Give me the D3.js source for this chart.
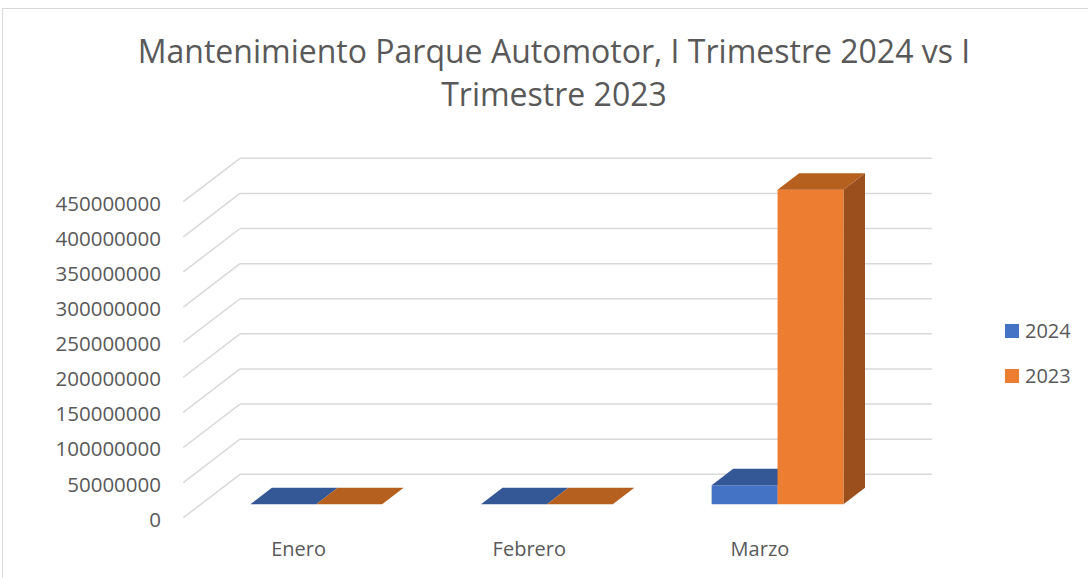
<!DOCTYPE html>
<html>
<head>
<meta charset="utf-8">
<script src="https://cdn.jsdelivr.net/npm/d3@7"></script>
<style>
  body { margin: 0; background: #fff; }
  text { font-family: "Open Sans", "Liberation Sans", sans-serif; fill: #595959; }
</style>
</head>
<body>
<svg id="chart"></svg>
<script>
// datos
const categories = ['Enero', 'Febrero', 'Marzo'];
const seriesNames = ['2024', '2023'];
const values2024 = [0, 0, 27000000];
const values2023 = [0, 0, 448000000];
const yTicks = [0, 50000000, 100000000, 150000000, 200000000, 250000000, 300000000, 350000000, 400000000, 450000000];
const titleLines = ['Mantenimiento Parque Automotor, I Trimestre 2024 vs I', 'Trimestre 2023'];

const width = 1088, height = 578;
const DX = 56.7, DY = 43.4;          // desplazamiento de profundidad (frente -> fondo)
const zFront = 0.31, zBack = 0.69;   // profundidad de las columnas

const colors = {
  '2024': {front: '#4472C4', top: '#345895', side: '#2F5090'},
  '2023': {front: '#ED7D31', top: '#B6601F', side: '#9A4F1D'}
};

const svg = d3.select('#chart')
    .attr('width', width)
    .attr('height', height);

// borde del area del grafico
svg.append('rect')
    .attr('x', 2.5).attr('y', 8.5)
    .attr('width', width + 20).attr('height', height + 20)
    .attr('fill', 'none')
    .attr('stroke', '#d9d9d9')
    .attr('stroke-width', 1);

// escalas sobre el plano frontal
const yScale = d3.scaleLinear()
    .domain([0, 450000000])
    .range([517.7, 201.7]);

const xScale = d3.scaleBand()
    .domain(categories)
    .range([183.3, 875.3]);

const xSub = d3.scaleBand()
    .domain(seriesNames)
    .range([0, xScale.bandwidth()])
    .paddingInner(0)
    .paddingOuter(0.75);

const proj = (x, y, z) => [x + z * DX, y - z * DY];
const poly = pts => 'M' + pts.map(p => p.join(',')).join('L') + 'Z';

// lineas de cuadricula: pared lateral y pared del fondo
const grid = svg.append('g');
const x0 = xScale.range()[0], x1 = xScale.range()[1];
grid.selectAll('line.side')
    .data(yTicks)
    .enter()
    .append('line')
    .attr('x1', x0).attr('y1', d => yScale(d))
    .attr('x2', x0 + DX).attr('y2', d => yScale(d) - DY)
    .attr('stroke', '#d9d9d9').attr('stroke-width', 1.5);
grid.selectAll('line.back')
    .data(yTicks)
    .enter()
    .append('line')
    .attr('x1', x0 + DX).attr('y1', d => yScale(d) - DY)
    .attr('x2', x1 + DX).attr('y2', d => yScale(d) - DY)
    .attr('stroke', '#d9d9d9').attr('stroke-width', 1.5);

// columnas 3D
const bars = [];
categories.forEach((c, i) => {
  bars.push({cat: c, s: '2024', v: values2024[i]});
  bars.push({cat: c, s: '2023', v: values2023[i]});
});

const barG = svg.append('g');
bars.forEach(d => {
  const xl = xScale(d.cat) + xSub(d.s);
  const xr = xl + xSub.bandwidth();
  const yb = yScale(0), yt = yScale(d.v);
  const col = colors[d.s];
  const g = barG.append('g');
  // cara lateral derecha
  g.append('path')
      .attr('d', poly([proj(xr, yb, zFront), proj(xr, yb, zBack), proj(xr, yt, zBack), proj(xr, yt, zFront)]))
      .attr('fill', col.side);
  // cara frontal
  const pf = proj(xl, yt, zFront);
  g.append('rect')
      .attr('x', pf[0]).attr('y', pf[1])
      .attr('width', xr - xl)
      .attr('height', yb - yt)
      .attr('fill', col.front);
  // cara superior
  g.append('path')
      .attr('d', poly([proj(xl, yt, zFront), proj(xl, yt, zBack), proj(xr, yt, zBack), proj(xr, yt, zFront)]))
      .attr('fill', col.top);
  g.append('title').text(`${d.cat} ${d.s}: ${d.v}`);
});

// eje Y (etiquetas)
svg.append('g')
    .selectAll('text')
    .data(yTicks)
    .enter()
    .append('text')
    .attr('x', 161)
    .attr('y', d => yScale(d) + 1)
    .attr('text-anchor', 'end')
    .attr('dominant-baseline', 'central')
    .style('font-size', '20.5px')
    .text(d => d);

// eje X (categorias)
svg.append('g')
    .selectAll('text')
    .data(categories)
    .enter()
    .append('text')
    .attr('x', d => xScale(d) + xScale.bandwidth() / 2)
    .attr('y', 556)
    .attr('text-anchor', 'middle')
    .style('font-size', '20px')
    .text(d => d);

// titulo
svg.append('g')
    .selectAll('text')
    .data(titleLines)
    .enter()
    .append('text')
    .attr('x', 554)
    .attr('y', (d, i) => 63 + i * 43)
    .attr('text-anchor', 'middle')
    .style('font-size', '32px')
    .text(d => d);

// leyenda
const legend = svg.append('g')
    .selectAll('g')
    .data(seriesNames)
    .enter()
    .append('g')
    .attr('transform', (d, i) => `translate(1005, ${324 + i * 45})`);
legend.append('rect')
    .attr('width', 14).attr('height', 14)
    .attr('fill', d => colors[d].front);
legend.append('text')
    .attr('x', 20).attr('y', 14)
    .style('font-size', '20px')
    .text(d => d);
</script>
</body>
</html>
